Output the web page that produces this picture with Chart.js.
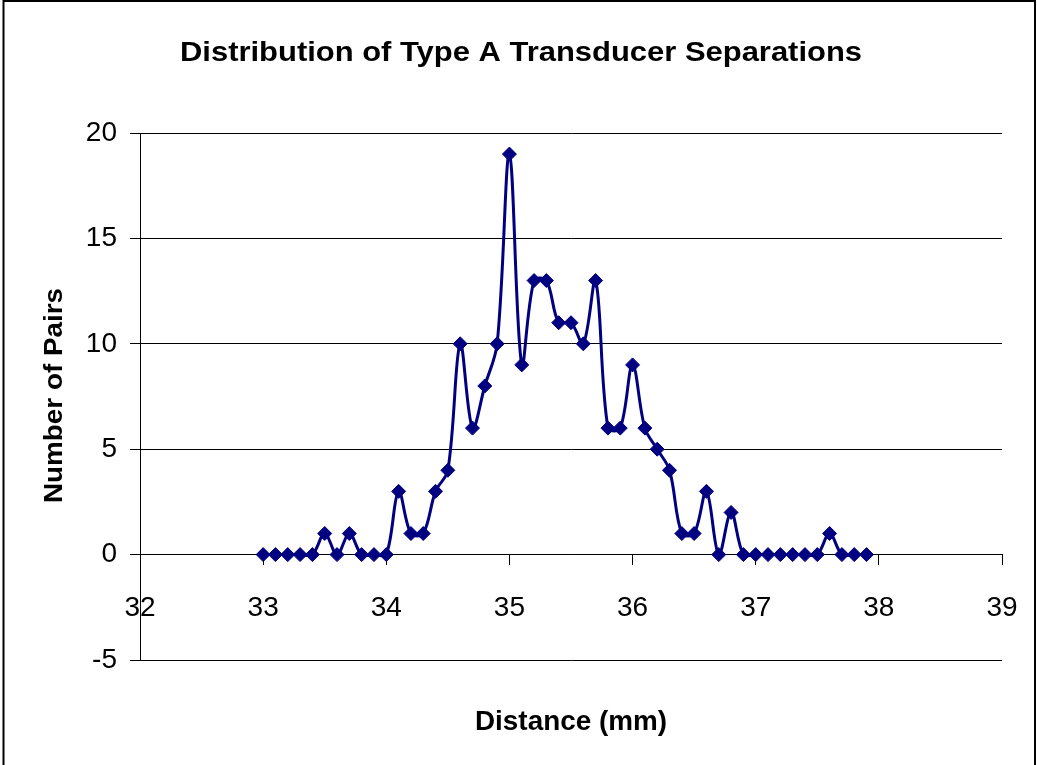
<!DOCTYPE html>
<html><head><meta charset="utf-8">
<script src="https://cdn.jsdelivr.net/npm/chart.js@4.4.0/dist/chart.umd.min.js"></script>
<style>
html,body{margin:0;padding:0;background:#fff;overflow:hidden}
#wrap{position:relative;width:1037px;height:765px}
canvas{display:block}
</style>
</head><body>
<div id="wrap"><canvas id="c" width="1037" height="765"></canvas></div>
<script>
const chartTitle = 'Distribution of Type A Transducer Separations';
const xAxisTitle = 'Distance (mm)';
const yAxisTitle = 'Number of Pairs';

const distances = [33.0,33.1,33.2,33.3,33.4,33.5,33.6,33.7,33.8,33.9,
                   34.0,34.1,34.2,34.3,34.4,34.5,34.6,34.7,34.8,34.9,
                   35.0,35.1,35.2,35.3,35.4,35.5,35.6,35.7,35.8,35.9,
                   36.0,36.1,36.2,36.3,36.4,36.5,36.6,36.7,36.8,36.9,
                   37.0,37.1,37.2,37.3,37.4,37.5,37.6,37.7,37.8,37.9];
const pairCounts = [0,0,0,0,0,1,0,1,0,0,
                    0,3,1,1,3,4,10,6,8,10,
                    19,9,13,13,11,11,10,13,6,6,
                    9,6,5,4,1,1,3,0,2,0,
                    0,0,0,0,0,0,1,0,0,0];
const xMin = 32, xMax = 39, xStep = 1;
const yMin = -5, yMax = 20, yStep = 5;

const FONT = '"Liberation Sans", Arial, sans-serif';

function drawStretched(ctx, text, x, y, font, targetW, rot) {
  ctx.save();
  ctx.font = font;
  const w = ctx.measureText(text).width;
  ctx.translate(x, y);
  ctx.rotate(rot);
  ctx.scale(targetW / w, 1);
  ctx.textAlign = 'center';
  ctx.textBaseline = 'alphabetic';
  ctx.fillStyle = '#000';
  ctx.fillText(text, 0, 0);
  ctx.restore();
}

const decor = {
  id: 'decor',
  afterDraw(chart) {
    const ctx = chart.ctx;
    ctx.save();
    ctx.strokeStyle = '#000';
    ctx.lineWidth = 2;
    ctx.beginPath();
    ctx.moveTo(3.5, 800); ctx.lineTo(3.5, 1); ctx.lineTo(1035, 1); ctx.lineTo(1035, 800);
    ctx.stroke();
    ctx.restore();
    drawStretched(ctx, chartTitle, 521, 61, 'bold 27px ' + FONT, 682, 0);
    drawStretched(ctx, yAxisTitle, 62, 395.5, 'bold 25px ' + FONT, 215, -Math.PI / 2);
    drawStretched(ctx, xAxisTitle, 571, 730, 'bold 28px ' + FONT, 192, 0);
  }
};

new Chart(document.getElementById('c'), {
  type: 'line',
  data: {
    datasets: [{
      data: distances.map((d, i) => ({ x: d, y: pairCounts[i] })),
      borderColor: '#000080',
      backgroundColor: '#000080',
      borderWidth: 3,
      tension: 0.35,
      fill: false,
      pointStyle: 'rectRot',
      pointRadius: 7,
      pointBorderWidth: 1,
      pointBackgroundColor: '#000080',
      pointBorderColor: '#000080'
    }]
  },
  options: {
    responsive: false,
    animation: false,
    devicePixelRatio: 1,
    layout: { padding: { left: 0, top: 133, right: 35, bottom: 105 } },
    plugins: { legend: { display: false }, tooltip: { enabled: false }, title: { display: false } },
    scales: {
      x: {
        type: 'linear',
        position: { y: 0 },
        min: xMin, max: xMax,
        ticks: { stepSize: xStep, color: '#000', font: { family: FONT, size: 28 }, padding: 27 },
        grid: { drawOnChartArea: false, tickLength: 10, color: '#000', lineWidth: 1 },
        border: { color: '#000', width: 1 },
        afterFit(s) { s.paddingLeft = 0; s.paddingRight = 0; }
      },
      y: {
        type: 'linear',
        min: yMin, max: yMax,
        ticks: { stepSize: yStep, color: '#000', font: { family: FONT, size: 28 }, padding: 13 },
        grid: { color: '#000', tickLength: 10, lineWidth: 1 },
        border: { color: '#000', width: 1 },
        afterFit(s) { s.width = 140; s.paddingTop = 0; s.paddingBottom = 0; }
      }
    }
  },
  plugins: [decor]
});
</script>
</body></html>
